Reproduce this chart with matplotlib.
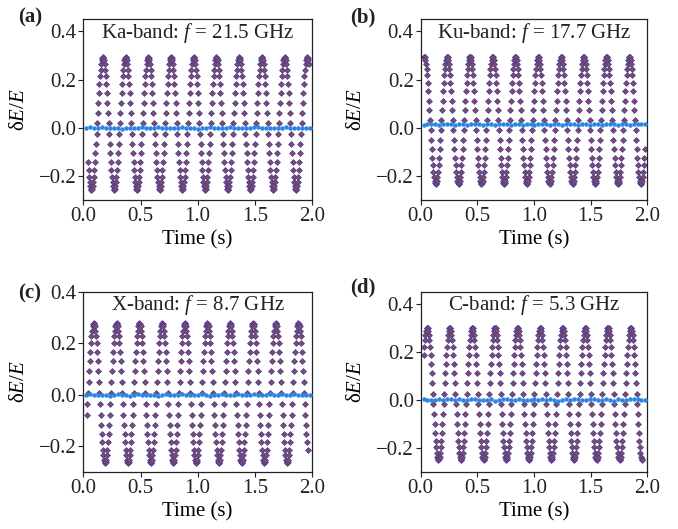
import matplotlib
matplotlib.use("Agg")
import matplotlib.pyplot as plt

plt.rcParams['font.family'] = ['Liberation Serif', 'DejaVu Serif']
plt.rcParams['mathtext.fontset'] = 'custom'
plt.rcParams['mathtext.rm'] = 'Liberation Serif'
plt.rcParams['mathtext.it'] = 'Liberation Serif:italic'

# sample offsets inside one oscillation cycle (s), trough at 0
cycle_t = [0.000, 0.005, 0.010, 0.015, 0.020, 0.025, 0.030, 0.035, 0.040, 0.045,
           0.050, 0.055, 0.060, 0.065, 0.070, 0.075, 0.080, 0.085, 0.090, 0.095,
           0.100, 0.105, 0.110, 0.115, 0.120, 0.125, 0.130, 0.135, 0.140, 0.145,
           0.150, 0.155, 0.160, 0.165, 0.170, 0.175, 0.180, 0.185, 0.190, 0.195]

# one cycle of dE/E per band
wave_ka = [-0.255, -0.252, -0.242, -0.225, -0.203, -0.175, -0.142, -0.105, -0.066, -0.024,
           0.019, 0.062, 0.104, 0.143, 0.180, 0.213, 0.241, 0.263, 0.280, 0.290,
           0.293, 0.290, 0.280, 0.263, 0.241, 0.213, 0.180, 0.143, 0.104, 0.062,
           0.019, -0.024, -0.066, -0.105, -0.142, -0.175, -0.203, -0.225, -0.242, -0.252]
wave_ku = [-0.232, -0.229, -0.219, -0.203, -0.182, -0.155, -0.123, -0.088, -0.050, -0.010,
           0.032, 0.073, 0.113, 0.151, 0.186, 0.218, 0.245, 0.266, 0.282, 0.292,
           0.295, 0.292, 0.282, 0.266, 0.245, 0.218, 0.186, 0.151, 0.113, 0.073,
           0.032, -0.010, -0.050, -0.088, -0.123, -0.155, -0.182, -0.203, -0.219, -0.229]
wave_x = [-0.265, -0.262, -0.252, -0.235, -0.213, -0.185, -0.153, -0.116, -0.077, -0.035,
          0.008, 0.050, 0.092, 0.131, 0.168, 0.200, 0.228, 0.250, 0.267, 0.277,
          0.280, 0.277, 0.267, 0.250, 0.228, 0.200, 0.168, 0.131, 0.092, 0.050,
          0.008, -0.035, -0.077, -0.116, -0.153, -0.185, -0.213, -0.235, -0.252, -0.262]
wave_c = [-0.251, -0.248, -0.238, -0.221, -0.198, -0.170, -0.137, -0.100, -0.060, -0.018,
          0.026, 0.069, 0.111, 0.151, 0.188, 0.221, 0.249, 0.272, 0.289, 0.299,
          0.302, 0.299, 0.289, 0.272, 0.249, 0.221, 0.188, 0.151, 0.111, 0.069,
          0.026, -0.018, -0.060, -0.100, -0.137, -0.170, -0.198, -0.221, -0.238, -0.248]

# trough times of each cycle (s)
troughs_ka = [-0.128, 0.070, 0.269, 0.468, 0.667, 0.866, 1.064, 1.263, 1.462, 1.661, 1.860]
troughs_ku = [-0.068, 0.133, 0.335, 0.536, 0.737, 0.938, 1.140, 1.341, 1.542, 1.743, 1.944]
troughs_x = [-0.010, 0.190, 0.390, 0.589, 0.787, 0.986, 1.185, 1.384, 1.583, 1.782, 1.981]
troughs_c = [-0.043, 0.157, 0.355, 0.556, 0.756, 0.955, 1.154, 1.353, 1.554, 1.756, 1.958]

# first / last recorded time (s)
span_ka = (0.040, 1.977)
span_ku = (0.025, 1.980)
span_x = (0.028, 1.962)
span_c = (0.025, 1.962)

# compensated signal (blue dots)
blue_t = [0.025, 0.060, 0.095, 0.130, 0.165, 0.200, 0.235, 0.270, 0.305, 0.340,
          0.375, 0.410, 0.445, 0.480, 0.515, 0.550, 0.585, 0.620, 0.655, 0.690,
          0.725, 0.760, 0.795, 0.830, 0.865, 0.900, 0.935, 0.970, 1.005, 1.040,
          1.075, 1.110, 1.145, 1.180, 1.215, 1.250, 1.285, 1.320, 1.355, 1.390,
          1.425, 1.460, 1.495, 1.530, 1.565, 1.600, 1.635, 1.670, 1.705, 1.740,
          1.775, 1.810, 1.845, 1.880, 1.915, 1.950, 1.985]
blue_ka = [0.001, 0.002, 0.001, 0.000, 0.002, 0.001, 0.000, 0.001, -0.002, -0.004,
           0.001, 0.000, -0.002, 0.001, 0.002, 0.000, -0.001, 0.001, 0.002, 0.000,
           0.001, -0.002, 0.000, 0.001, 0.002, 0.000, -0.001, 0.001, -0.003, 0.000,
           0.001, 0.002, 0.000, 0.001, -0.001, 0.000, 0.002, 0.001, 0.000, -0.002,
           0.001, 0.000, 0.002, 0.003, 0.001, 0.000, -0.002, 0.001, 0.000, 0.001,
           0.002, 0.000, -0.001, 0.000, 0.001, 0.000, -0.001]
blue_ku = [0.014, 0.016, 0.015, 0.016, 0.014, 0.015, 0.017, 0.016, 0.014, 0.015,
           0.016, 0.013, 0.015, 0.016, 0.015, 0.014, 0.016, 0.015, 0.013, 0.015,
           0.016, 0.015, 0.014, 0.016, 0.015, 0.013, 0.015, 0.016, 0.014, 0.015,
           0.017, 0.015, 0.014, 0.016, 0.015, 0.013, 0.015, 0.016, 0.015, 0.014,
           0.016, 0.015, 0.013, 0.015, 0.016, 0.014, 0.015, 0.017, 0.015, 0.014,
           0.016, 0.015, 0.014, 0.016, 0.015, 0.016, 0.015]
blue_x = [0.001, 0.002, 0.000, -0.002, 0.001, 0.000, -0.003, 0.001, 0.002, -0.001,
          0.000, -0.003, 0.001, 0.002, 0.000, -0.002, 0.001, 0.000, -0.003, 0.001,
          0.002, -0.001, 0.000, 0.001, 0.002, -0.002, 0.000, 0.001, -0.001, 0.002,
          0.000, -0.003, 0.001, 0.000, 0.002, 0.001, -0.001, 0.000, 0.002, 0.001,
          -0.002, 0.001, 0.004, 0.000, 0.001, -0.002, 0.002, 0.001, 0.000, 0.003,
          0.000, 0.001, 0.003, -0.001, 0.000, 0.001, 0.000]
blue_c = [0.003, 0.001, -0.002, 0.001, 0.002, 0.001, 0.003, 0.002, 0.001, 0.002,
          0.000, 0.001, 0.003, 0.002, 0.000, 0.001, -0.001, 0.002, -0.004, 0.001,
          0.003, 0.002, 0.000, 0.001, 0.002, 0.001, -0.002, 0.001, 0.002, 0.000,
          0.003, 0.001, 0.002, 0.000, -0.003, 0.001, 0.002, 0.001, 0.003, 0.002,
          0.000, 0.001, 0.002, 0.003, 0.001, 0.000, 0.002, 0.001, -0.003, 0.002,
          0.001, 0.000, 0.004, 0.003, 0.002, 0.001, 0.001]

panels = [
    ("(a)", "Ka-band: $f$ = 21.5 GHz", wave_ka, troughs_ka, span_ka, blue_ka, (-0.3, 0.45)),
    ("(b)", "Ku-band: $f$ = 17.7 GHz", wave_ku, troughs_ku, span_ku, blue_ku, (-0.3, 0.45)),
    ("(c)", "X-band: $f$ = 8.7 GHz", wave_x, troughs_x, span_x, blue_x, (-0.3, 0.4)),
    ("(d)", "C-band: $f$ = 5.3 GHz", wave_c, troughs_c, span_c, blue_c, (-0.3, 0.45)),
]

# axes rectangles in figure fractions
rects = [[0.123, 0.621, 0.337, 0.343],
         [0.6205, 0.621, 0.334, 0.343],
         [0.123, 0.108, 0.337, 0.340],
         [0.6205, 0.108, 0.334, 0.340]]
tag_pos = [(0.044, 0.967), (0.535, 0.967), (0.044, 0.446), (0.535, 0.456)]


def cycle_points(troughs, wave, span):
    t, y = [], []
    for t0 in troughs:
        for dt, v in zip(cycle_t, wave):
            if span[0] <= t0 + dt <= span[1]:
                t.append(t0 + dt)
                y.append(v)
    return t, y


fig = plt.figure(figsize=(6.78, 5.29), dpi=100)
fs = 15

for (tag, title, wave, troughs, span, blue, ylim), rect, tp in zip(panels, rects, tag_pos):
    ax = fig.add_axes(rect)
    t, y = cycle_points(troughs, wave, span)
    ax.plot(t, y, 'D', ms=3.0, mfc='#7d4f5c', mec='#4a3aa8', mew=0.5, zorder=2)
    ax.plot(blue_t, blue, 'o', ms=2.8, mfc='#1f87e6', mec='#4a90e0', mew=0.4, zorder=3)

    ax.set_xlim(0, 2.0)
    ax.set_ylim(*ylim)
    ax.set_xticks([0.0, 0.5, 1.0, 1.5, 2.0])
    ax.set_yticks([-0.2, 0.0, 0.2, 0.4])
    ax.set_xticklabels(['0.0', '0.5', '1.0', '1.5', '2.0'])
    ax.set_yticklabels(['\u22120.2', '0.0', '0.2', '0.4'])
    ax.tick_params(direction='out', length=3.5, width=0.8, pad=1.5, labelsize=fs,
                   colors='#222222')
    for s in ax.spines.values():
        s.set_color('#222222')
        s.set_linewidth(0.9)

    ax.set_xlabel('Time (s)', fontsize=fs, labelpad=3)
    ax.set_ylabel(r'δ$E$/$E$', fontsize=fs)
    ax.yaxis.set_label_coords(-0.24, 0.5)

    ax.text(0.5, 0.925, title, transform=ax.transAxes, ha='center', va='center',
            fontsize=fs, color='#222222')
    fig.text(tp[0], tp[1], tag, ha='center', va='center', fontsize=fs,
             fontweight='bold', color='#222222')

fig.savefig('out.png', dpi=100)
